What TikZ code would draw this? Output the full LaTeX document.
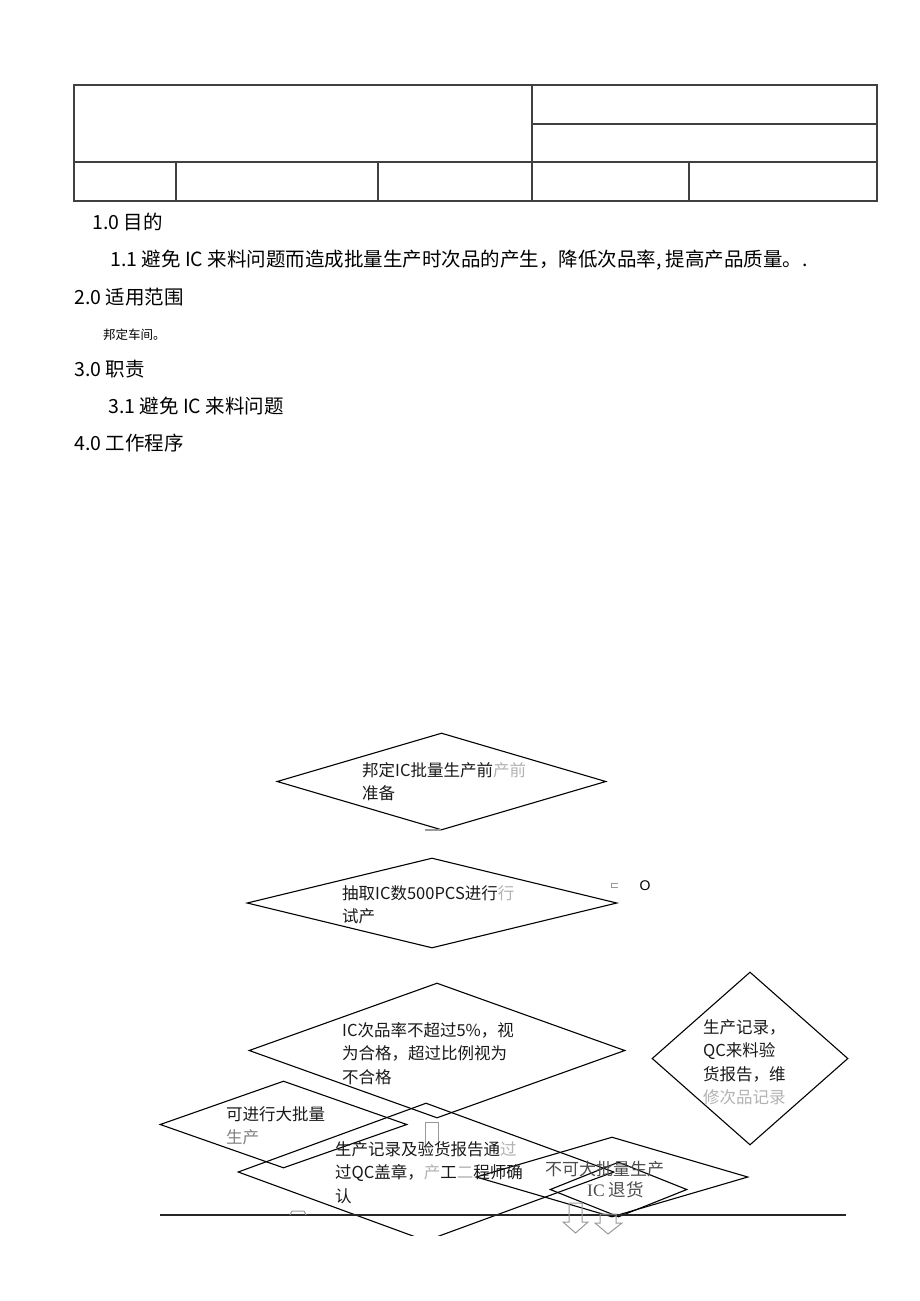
\documentclass[tikz,border=0pt]{standalone}
\usepackage{fontspec}
\usetikzlibrary{shapes.geometric}
\setmainfont{Noto Sans CJK SC}
\newfontfamily\latinserif{Liberation Serif}
\newfontfamily\latinsans{Liberation Sans}
\newcommand{\headfont}{\fontsize{19.5}{23}\selectfont}
\newcommand{\smallhead}{\fontsize{12.5}{15}\selectfont}
\newcommand{\flowfont}{\fontsize{16.5}{23.5}\selectfont}
\colorlet{ghostgray}{black!30}

\tikzstyle{tableline} = [draw=black!75, line width=1.1pt]
\tikzstyle{heading} = [inner sep=0pt, anchor=west, font=\headfont, text=black]
\tikzstyle{decision} = [draw, diamond, inner sep=0pt, line width=1.1pt]
\tikzstyle{steptext} = [inner sep=0pt, anchor=north west, align=left,
    font=\flowfont, text=black!90]
\tikzstyle{hollow} = [draw=black!40, line width=1pt]
\tikzstyle{floorline} = [draw=black!85, line width=1.5pt]

\begin{document}
\begin{tikzpicture}[x=1pt, y=-1pt]
    \useasboundingbox (0,0) rectangle (920,1301);
    \draw [tableline] (74,85) rectangle (877,201);
    \draw [tableline] (532,85) -- (532,201);
    \draw [tableline] (74,162) -- (877,162);
    \draw [tableline] (532,124) -- (877,124);
    \foreach \x in {176,378,689}
        \draw [tableline] (\x,162) -- (\x,201);

    \node [heading] (aim) at (92,222) {1.0 目的};
    \node [heading] (aimtext) at (110,260) {1.1 避免 IC 来料问题而造成批量生产时次品的产生，降低次品率, 提高产品质量。.};
    \node [heading] (scope) at (74,297) {2.0 适用范围};
    \node [heading, font=\smallhead] (scopetext) at (103,335) {邦定车间。};
    \node [heading] (duty) at (74,369) {3.0 职责};
    \node [heading] (dutytext) at (108,406) {3.1 避免 IC 来料问题};
    \node [heading] (proc) at (74,443) {4.0 工作程序};

    \begin{scope}
    \clip (0,0) rectangle (920,1235);
    \node [decision, minimum width=329pt, minimum height=97pt] (prep) at (441.5,781.5) {};
    \node [decision, minimum width=370pt, minimum height=90pt] (trial) at (432,903) {};
    \node [decision, minimum width=376pt, minimum height=135pt] (judge) at (437,1050.5) {};
    \node [decision, minimum width=196pt, minimum height=173pt] (record) at (750,1058.5) {};
    \node [decision, minimum width=247pt, minimum height=87pt] (mass) at (283.5,1124.5) {};
    \node [decision, minimum width=376pt, minimum height=138pt] (confirm) at (426,1172) {};
    \node [decision, minimum width=272pt, minimum height=80pt] (nomass) at (612,1177) {};
    \node [decision, minimum width=137pt, minimum height=55pt] (back) at (618.5,1189.5) {};

    \coordinate (floor west) at (160,1215);
    \coordinate (floor east) at (846,1215);
    \draw [floorline] (floor west) -- (floor east);

    \draw [hollow, line width=2pt] (425,830) -- (441,830);
    \draw [hollow] (618,883) -- (611,883) -- (611,887) -- (618,887);
    \draw [hollow] (425,1150) -- (425,1122) -- (438,1122) -- (438,1150);
    \draw [hollow] (290,1215) -- (292,1211) -- (304,1211) -- (306,1215);
    \draw [hollow] (569,1203) -- (582,1203) -- (582,1222) -- (588,1222)
        -- (575.5,1233) -- (563,1222) -- (569,1222) -- cycle;
    \draw [hollow] (600,1214) -- (616,1214) -- (616,1223) -- (622,1223)
        -- (608,1234) -- (595,1223) -- (600,1223) -- cycle;

    \node [steptext] (preptext) at (362,762) {邦定IC批量生产前\textcolor{ghostgray}{产前}\\准备};
    \node [steptext] (trialtext) at (342,885) {抽取IC数500PCS进行\textcolor{ghostgray}{行}\\试产};
    \node [inner sep=0pt, font=\latinsans\fontsize{14}{16}\selectfont] (mark) at (645,886) {O};
    \node [steptext] (judgetext) at (342,1022) {IC次品率不超过5\%，视\\为合格，超过比例视为\\不合格};
    \node [steptext] (recordtext) at (703,1019) {生产记录，\\QC来料验\\货报告，维\\\textcolor{ghostgray}{修次品记录}};
    \node [steptext] (masstext) at (226,1106) {可进行大批量\\\textcolor{black!50}{生产}};
    \node [steptext] (confirmtext) at (335,1141) {生产记录及验货报告通\textcolor{ghostgray}{过}\\过QC盖章，\textcolor{ghostgray}{产}工\textcolor{ghostgray}{二}程师确\\认};
    \node [steptext, font=\fontsize{17}{20}\selectfont, text=black!70] (nomasstext) at (545,1161) {不可大批量生产};
    \node [steptext, font=\fontsize{17.5}{20}\selectfont, text=black!70] (backtext) at (587,1181) {{\latinserif IC} 退货};
    \end{scope}
\end{tikzpicture}
\end{document}
